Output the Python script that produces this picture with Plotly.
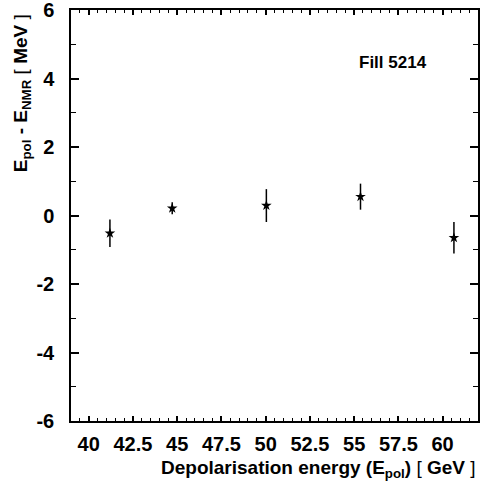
import plotly.graph_objects as go

energy = [41.2, 44.72, 50.04, 55.36, 60.64]
delta = [-0.52, 0.21, 0.29, 0.55, -0.65]
err = [0.40, 0.175, 0.48, 0.38, 0.46]
x_ticks = [40, 42.5, 45, 47.5, 50, 52.5, 55, 57.5, 60]
x_labels = ["40", "42.5", "45", "47.5", "50", "52.5", "55", "57.5", "60"]
y_ticks = [-6, -4, -2, 0, 2, 4, 6]
y_labels = ["-6", "-4", "-2", "0", "2", "4", "6"]

FONT = "Liberation Sans"

fig = go.Figure()
fig.add_trace(go.Scatter(
    x=energy, y=delta, mode="markers",
    marker=dict(symbol="star", size=8, color="black"),
    error_y=dict(type="data", array=err, visible=True, color="black",
                 thickness=1.5, width=0),
    showlegend=False, hoverinfo="skip",
))

axis_common = dict(
    showline=True, linecolor="black", linewidth=1.5, mirror="allticks",
    ticks="inside", tickcolor="black", showgrid=False, zeroline=False,
    automargin=False, ticklabeloverflow="allow",
    tickfont=dict(family=FONT, size=20, color="black", weight="bold"),
)

fig.update_layout(
    width=483, height=487,
    margin=dict(l=71, r=5, t=10, b=66, autoexpand=False),
    plot_bgcolor="white", paper_bgcolor="white",
    xaxis=dict(range=[39, 62], tickvals=x_ticks, ticktext=x_labels,
               ticklen=5, tickwidth=1.5, ticklabelstandoff=4,
               minor=dict(dtick=0.5, tick0=39, ticks="inside", ticklen=3,
                          tickcolor="black", tickwidth=1),
               **axis_common),
    yaxis=dict(range=[-6, 6], tickvals=y_ticks, ticktext=y_labels,
               ticklen=8, tickwidth=1.5, ticklabelstandoff=11,
               minor=dict(dtick=1, ticks="inside", ticklen=5,
                          tickcolor="black", tickwidth=1),
               **axis_common),
    annotations=[
        dict(text="<b>Fill 5214</b>", xref="paper", yref="paper",
             x=0.702, y=0.873, xanchor="left", yanchor="middle", showarrow=False,
             font=dict(family=FONT, size=17, color="black")),
        dict(text="<b>Depolarisation energy (E<sub>pol</sub>)</b> [ <b>GeV</b> ]",
             xref="paper", yref="paper", x=1.0, y=-0.082, xanchor="right",
             yanchor="top", showarrow=False,
             font=dict(family=FONT, size=19, color="black")),
        dict(text="<b>E<sub>pol</sub> - E<sub>NMR</sub></b> [ <b>MeV</b> ]",
             xref="paper", yref="paper", x=-0.12, y=0.995, xanchor="center",
             yanchor="top", textangle=-90, showarrow=False,
             font=dict(family=FONT, size=19, color="black")),
    ],
)

fig.write_html(
    "out.html",
    config={"displayModeBar": False},
    post_script="document.body.style.margin='0';document.body.style.overflow='hidden';",
)
